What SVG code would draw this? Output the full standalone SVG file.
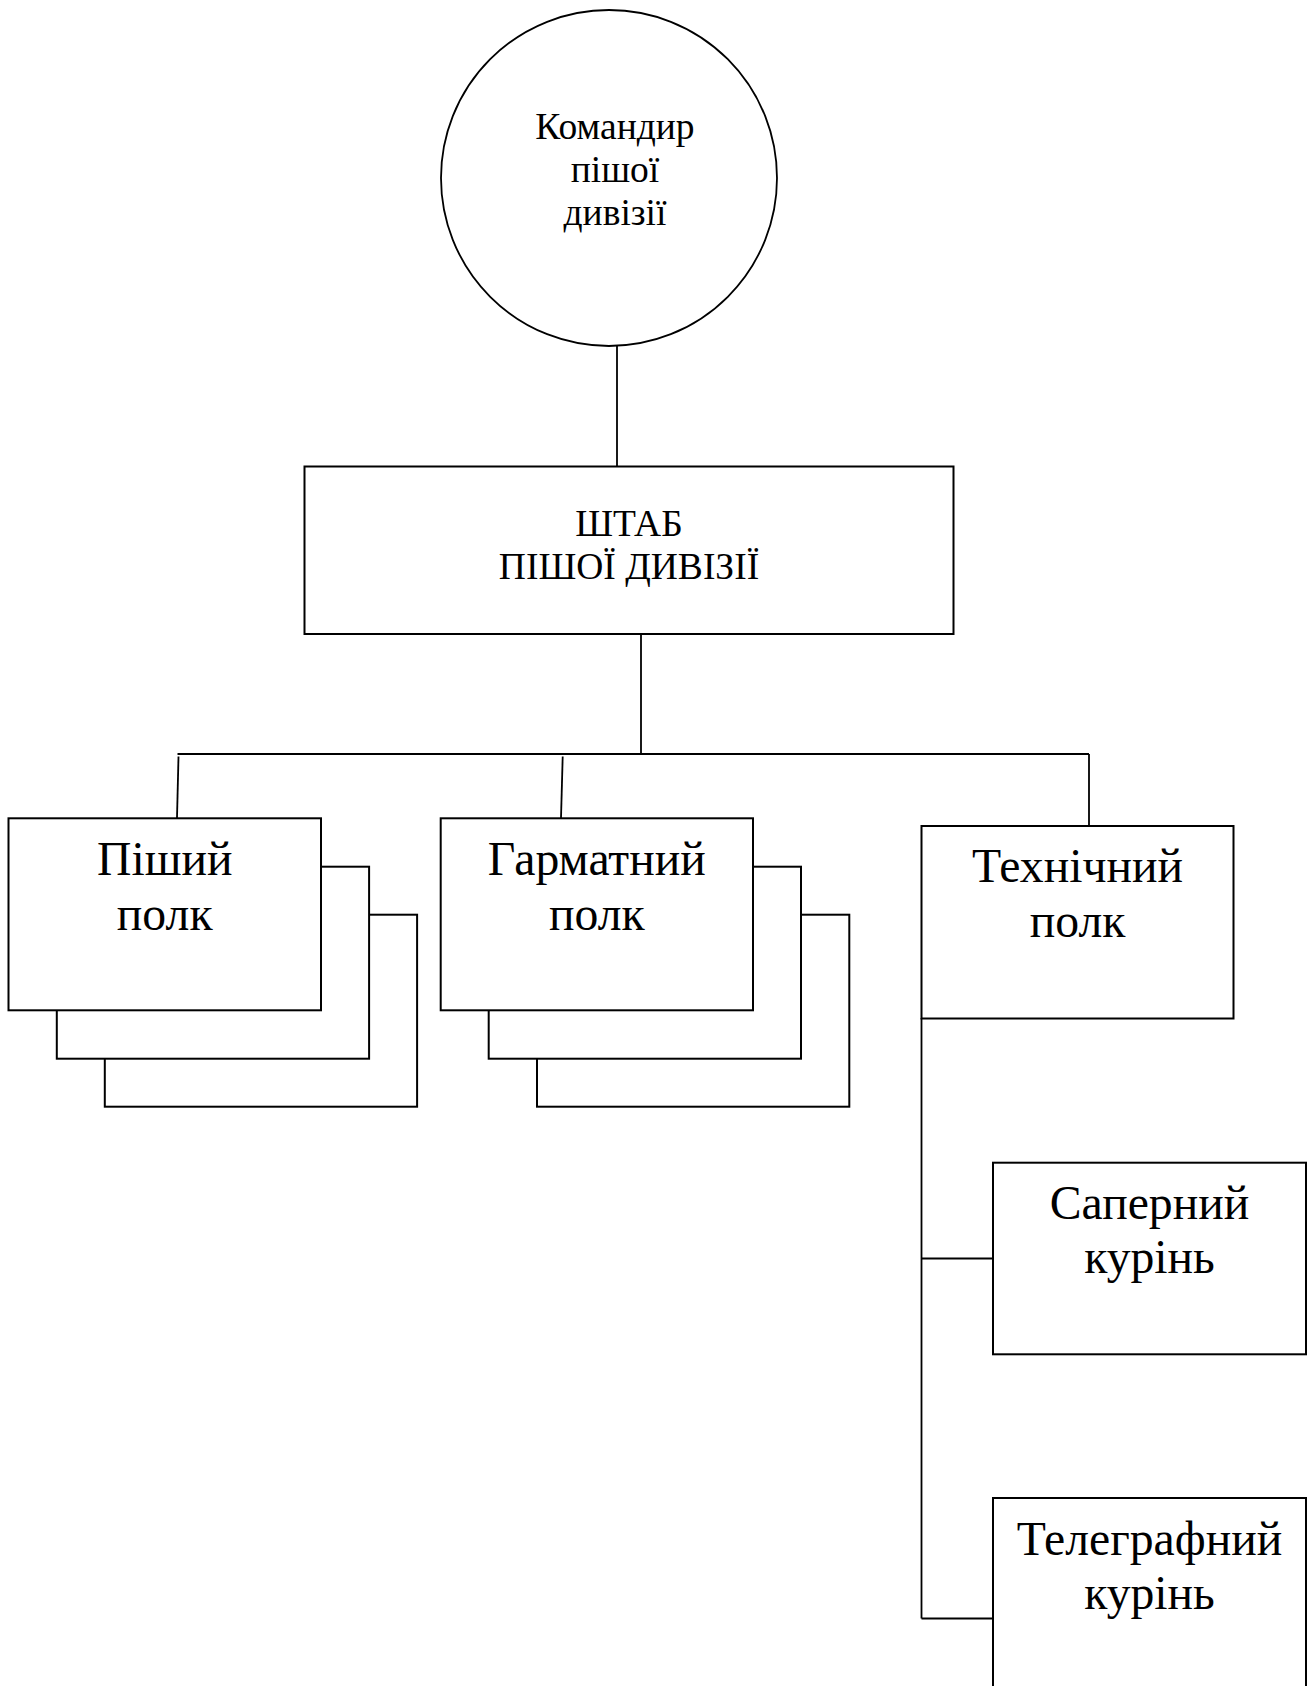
<svg xmlns="http://www.w3.org/2000/svg" width="1316" height="1686" viewBox="0 0 1316 1686">
<style>
.box{fill:#fff;stroke:#000;stroke-width:2}
.ln{fill:none;stroke:#000;stroke-width:1.8}
.t{font-family:"Liberation Serif","Times New Roman",serif;fill:#000;text-anchor:middle}
.s{font-size:37.5px}
.b{font-size:47.7px}
</style>
<rect width="1316" height="1686" fill="#fff"/>
<g id="connectors">
<line class="ln" x1="617" y1="346" x2="617" y2="466.5"/>
<line class="ln" x1="641" y1="634" x2="641" y2="754"/>
<line class="ln" x1="177.5" y1="754" x2="1089" y2="754"/>
<line class="ln" x1="178.5" y1="756.5" x2="177" y2="818"/>
<line class="ln" x1="562.7" y1="756.5" x2="561" y2="818"/>
<line class="ln" x1="1089" y1="754" x2="1089" y2="826"/>
<line class="ln" x1="921.5" y1="1018" x2="921.5" y2="1618.5"/>
<line class="ln" x1="921.5" y1="1258.5" x2="993" y2="1258.5"/>
<line class="ln" x1="921.5" y1="1618.5" x2="993" y2="1618.5"/>
</g>
<g id="commander">
<circle cx="609" cy="178" r="168" fill="#fff" stroke="#000" stroke-width="1.8"/>
<text class="t s" x="615" y="139">Командир</text>
<text class="t s" x="615" y="182">пішої</text>
<text class="t s" x="615" y="225">дивізії</text>
</g>
<g id="staff">
<rect class="box" x="304.5" y="466.5" width="649" height="167.5"/>
<text class="t s" x="629" y="535.7">ШТАБ</text>
<text class="t s" x="629" y="579">ПІШОЇ ДИВІЗІЇ</text>
</g>
<g id="infantry">
<rect class="box" x="104.8" y="914.7" width="312.3" height="192"/>
<rect class="box" x="56.8" y="866.7" width="312.3" height="192"/>
<rect class="box" x="8.5" y="818.3" width="312.5" height="192"/>
<text class="t b" x="164.7" y="874.5">Піший</text>
<text class="t b" x="164.7" y="929.5">полк</text>
</g>
<g id="artillery">
<rect class="box" x="537" y="914.7" width="312.3" height="192"/>
<rect class="box" x="488.7" y="866.7" width="312.3" height="192"/>
<rect class="box" x="440.7" y="818.3" width="312.3" height="192"/>
<text class="t b" x="596.8" y="874.5">Гарматний</text>
<text class="t b" x="596.8" y="929.5">полк</text>
</g>
<g id="technical">
<rect class="box" x="921.5" y="826" width="312" height="192.5"/>
<text class="t b" x="1077.5" y="881.7">Технічний</text>
<text class="t b" x="1077.5" y="937">полк</text>
</g>
<g id="sapper">
<rect class="box" x="993" y="1162.7" width="313" height="191.6"/>
<text class="t b" x="1149.5" y="1218.7">Саперний</text>
<text class="t b" x="1149.5" y="1273.4">курінь</text>
</g>
<g id="telegraph">
<rect class="box" x="993" y="1498" width="313" height="200"/>
<text class="t b" x="1149.5" y="1554.7">Телеграфний</text>
<text class="t b" x="1149.5" y="1609.4">курінь</text>
</g>
</svg>
